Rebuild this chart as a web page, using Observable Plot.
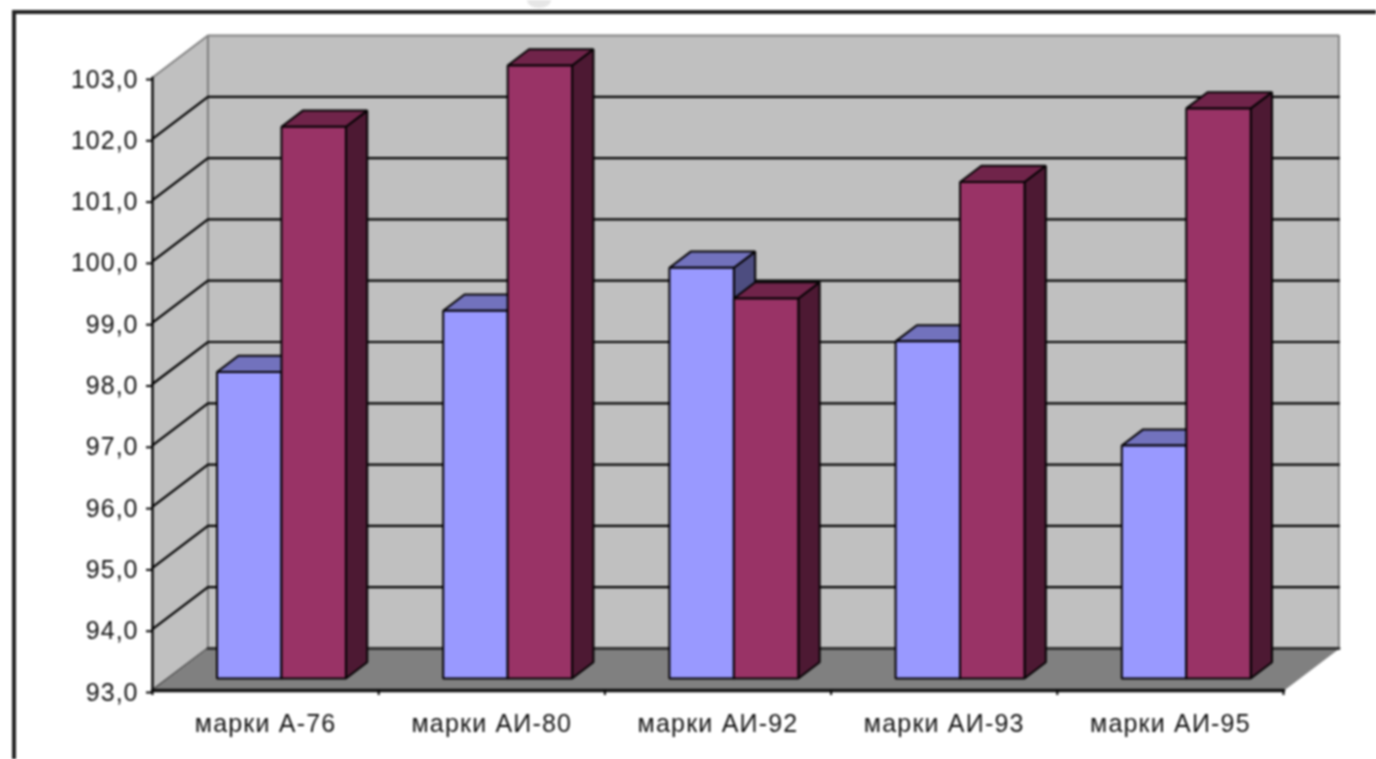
<!DOCTYPE html>
<html>
<head>
<meta charset="utf-8">
<script src="https://cdn.jsdelivr.net/npm/d3@7"></script>
<script src="https://cdn.jsdelivr.net/npm/@observablehq/plot@0.6"></script>
<style>
html,body{margin:0;padding:0;background:#fff;overflow:hidden;width:1376px;height:759px}
#wrap{position:relative;width:1376px;height:759px;overflow:hidden;filter:blur(0.9px)}
#frame{position:absolute;left:12px;top:10px;width:2000px;height:2000px;border:4px solid #222}
#smudge{position:absolute;left:527px;top:-8px;width:24px;height:16px;border-radius:50%;background:#e6e6e6}
#chart{position:absolute;left:0;top:0}
svg{background:transparent !important}
g[aria-label="x-axis tick label"]{letter-spacing:1.2px}
g[aria-label="y-axis tick label"]{letter-spacing:1px}
</style>
</head>
<body>
<div id="wrap"><div id="smudge"></div><div id="frame"></div><div id="chart"></div></div>
<script>
const categories = ["марки А-76", "марки АИ-80", "марки АИ-92", "марки АИ-93", "марки АИ-95"];
const blueValues = [98.0, 99.0, 99.7, 98.5, 96.8];
const redValues = [102.0, 103.0, 99.2, 101.1, 102.3];
const yTicks = [93, 94, 95, 96, 97, 98, 99, 100, 101, 102, 103];
const xEdges = [0, 1, 2, 3, 4, 5];

// oblique depth: one full depth unit moves a point right (in categories) and up (in axis units)
const skewX = 0.245, skewY = 0.685;
const zFront = 0.286, zBack = 0.671;
const pt = (c, v, z) => ({x: c + z * skewX, y: v + z * skewY});

const poly = (points, fill, stroke, strokeWidth = 2) =>
  Plot.line(points, {x: "x", y: "y", fill, stroke, strokeWidth, curve: "linear-closed", strokeLinejoin: "miter"});

const seg = (points, stroke, strokeWidth) =>
  Plot.line(points, {x: "x", y: "y", stroke, strokeWidth});

function bar(c0, c1, v, front, top, side) {
  const out = "#050304";
  return [
    poly([pt(c1, 93, zFront), pt(c1, 93, zBack), pt(c1, v, zBack), pt(c1, v, zFront)], side, out),
    poly([pt(c0, v, zFront), pt(c1, v, zFront), pt(c1, v, zBack), pt(c0, v, zBack)], top, out),
    poly([pt(c0, 93, zFront), pt(c1, 93, zFront), pt(c1, v, zFront), pt(c0, v, zFront)], front, out)
  ];
}

const barMarks = categories.flatMap((_, i) => [
  ...bar(i + 0.215, i + 0.5, blueValues[i], "#9999ff", "#7272bd", "#4d4d80"),
  ...bar(i + 0.5, i + 0.785, redValues[i], "#993366", "#70244a", "#4d1933")
]);

const chart = Plot.plot({
  width: 1376,
  height: 759,
  marginLeft: 152,
  marginRight: 93,
  marginTop: 77,
  marginBottom: 69,
  style: {background: "transparent", fontFamily: "'Liberation Sans', Arial, sans-serif"},
  x: {domain: [0, 5]},
  y: {domain: [93, 103]},
  marks: [
    // walls and floor
    poly([pt(0, 93, 1), pt(5, 93, 1), pt(5, 103, 1), pt(0, 103, 1)], "#c0c0c0", "#808080", 2),
    poly([pt(0, 93, 0), pt(0, 93, 1), pt(0, 103, 1), pt(0, 103, 0)], "#c0c0c0", "#808080", 2),
    // gridlines along back wall and left wall
    ...yTicks.slice(0, -1).map(v => seg([pt(0, v, 0), pt(0, v, 1), pt(5, v, 1)], "#000", 2.2)),
    poly([pt(0, 93, 0), pt(5, 93, 0), pt(5, 93, 1), pt(0, 93, 1)], "#808080", "#808080", 1),
    seg([pt(0, 93, 1), pt(5, 93, 1)], "#333", 3),
    ...barMarks,
    // axes
    seg([pt(0, 93, 0), pt(0, 103, 0)], "#000", 2.2),
    seg([pt(0, 93, 0), pt(5, 93, 0)], "#111", 3.5),
    Plot.axisY({
      ticks: yTicks,
      tickSize: 6,
      tickPadding: 8,
      dy: 2,
      tickFormat: d => d.toFixed(1).replace(".", ","),
      fontSize: 25,
      stroke: "#000",
      strokeWidth: 2,
      fill: "#111",
      label: null
    }),
    Plot.axisX({ticks: xEdges, tickSize: 5, tickFormat: () => "", stroke: "#000", strokeWidth: 2, label: null}),
    Plot.axisX({
      ticks: xEdges.slice(0, -1).map(d => d + 0.5),
      tickSize: 0,
      tickPadding: 24,
      tickFormat: d => categories[Math.floor(d)],
      fontSize: 25,
      fill: "#111",
      label: null
    })
  ]
});
document.getElementById("chart").appendChild(chart);
</script>
</body>
</html>
